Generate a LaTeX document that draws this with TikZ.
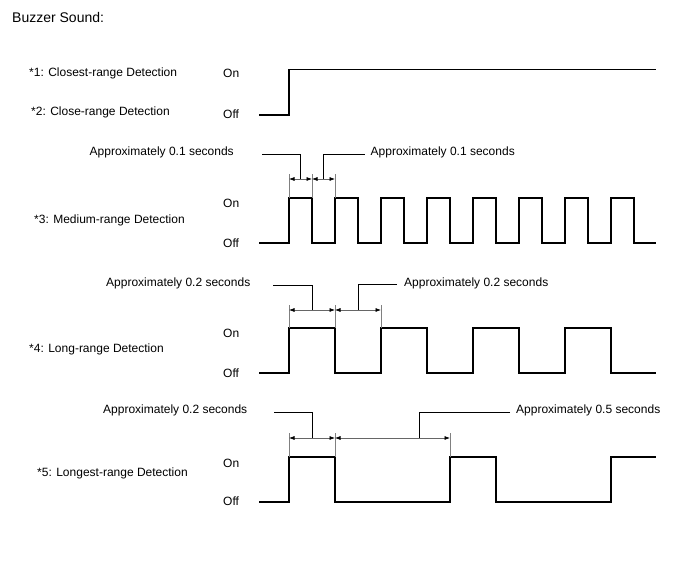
\documentclass[tikz,border=0pt]{standalone}
\usepackage{fontspec}
\setmainfont{Liberation Sans}
\usetikzlibrary{arrows.meta,calc}
\begin{document}
\begin{tikzpicture}[x=1pt,y=-1pt,
  lbl/.style={anchor=west,inner sep=0pt,font=\fontsize{12}{14}\selectfont},
  ttl/.style={anchor=west,inner sep=0pt,font=\fontsize{14}{16}\selectfont},
  wave/.style={line width=1.3pt,line join=miter,line cap=rect},
  leader/.style={line width=0.7pt},
  extl/.style={line width=0.6pt,draw=black!50},
  dimln/.style={line width=0.6pt,draw=black!60,{Latex[length=5.5pt,width=4pt,color=black]}-{Latex[length=5.5pt,width=4pt,color=black]}},
]
\useasboundingbox (0,0) rectangle (688,560);

% title
\node[ttl] (title) at (12,17) {Buzzer Sound:};

% ---- section 1/2
\node[lbl] (l1) at (29,73) {*1: Closest-range Detection};
\node[lbl] (l2) at (31,112) {*2: Close-range Detection};
\node[lbl] (on1) at (223,73) {On};
\node[lbl] (off1) at (223,114) {Off};
\draw[wave] (260,115) -- (289,115) -- (289,69.5) -- (655,69.5);

% ---- section 3
\node[lbl] (l3) at (34,220) {*3: Medium-range Detection};
\node[lbl] (on3) at (223,203) {On};
\node[lbl] (off3) at (223,243) {Off};
\draw[wave] (260,243) foreach \k in {0,...,7} { -- (289+46*\k,243) -- (289+46*\k,198) -- (312+46*\k,198) -- (312+46*\k,243) } -- (655,243);
\foreach \x in {289,312,335} \draw[extl] (\x,174) -- (\x,198);
\coordinate (d3a) at (289,179);
\coordinate (d3b) at (312,179);
\coordinate (d3c) at (335,179);
\draw[dimln] (d3a) -- (d3b);
\draw[dimln] (d3b) -- (d3c);
\node[lbl] (t3l) at (89.5,152.5) {Approximately 0.1 seconds};
\node[lbl] (t3r) at (370.5,152.5) {Approximately 0.1 seconds};
\coordinate (s3l) at (262,154);
\draw[leader] (s3l) -| ($(d3a)!0.5!(d3b)$);
\draw[leader] (t3r.west) ++(-6,1.5) -| ($(d3b)!0.5!(d3c)$);

% ---- section 4
\node[lbl] (l4) at (29,349) {*4: Long-range Detection};
\node[lbl] (on4) at (223,333) {On};
\node[lbl] (off4) at (223,373) {Off};
\draw[wave] (260,373) foreach \k in {0,...,3} { -- (289+92*\k,373) -- (289+92*\k,328) -- (335+92*\k,328) -- (335+92*\k,373) } -- (655,373);
\foreach \x in {289,335,381} \draw[extl] (\x,305) -- (\x,328);
\coordinate (d4a) at (289,310);
\coordinate (d4b) at (335,310);
\coordinate (d4c) at (381,310);
\draw[dimln] (d4a) -- (d4b);
\draw[dimln] (d4b) -- (d4c);
\node[lbl] (t4l) at (106,283) {Approximately 0.2 seconds};
\node[lbl] (t4r) at (404,283) {Approximately 0.2 seconds};
\coordinate (s4l) at (273,285);
\draw[leader] (s4l) -| ($(d4a)!0.5!(d4b)$);
\draw[leader] (t4r.west) ++(-7,1.5) -| ($(d4b)!0.5!(d4c)$);

% ---- section 5
\node[lbl] (l5) at (37,473) {*5: Longest-range Detection};
\node[lbl] (on5) at (223,463) {On};
\node[lbl] (off5) at (223,501) {Off};
\draw[wave] (260,502) -- (289,502) -- (289,457) -- (335,457) -- (335,502) -- (450,502) -- (450,457) -- (496,457) -- (496,502) -- (611,502) -- (611,457) -- (655,457);
\foreach \x in {289,335,450} \draw[extl] (\x,433) -- (\x,457);
\coordinate (d5a) at (289,438);
\coordinate (d5b) at (335,438);
\coordinate (d5c) at (450,438);
\draw[dimln] (d5a) -- (d5b);
\draw[dimln] (d5b) -- (d5c);
\node[lbl] (t5l) at (103,410.5) {Approximately 0.2 seconds};
\node[lbl] (t5r) at (516,410.5) {Approximately 0.5 seconds};
\coordinate (s5l) at (274,412.5);
\coordinate (m5) at (419,438);
\draw[leader] (s5l) -| ($(d5a)!0.5!(d5b)$);
\draw[leader] (t5r.west) ++(-6,2) -| (m5);
\end{tikzpicture}
\end{document}
